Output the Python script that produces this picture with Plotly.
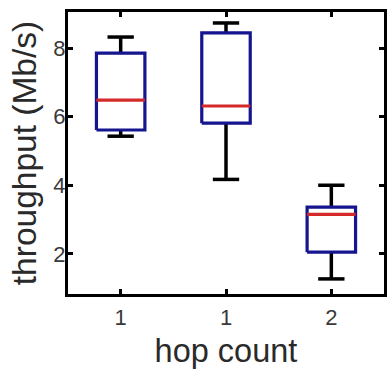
import plotly.graph_objects as go

positions = [1, 2, 3]
tick_labels = ["1", "1", "2"]
upper_whisker = [8.32, 8.73, 4.00]
q3 = [7.85, 8.44, 3.36]
median = [6.48, 6.31, 3.15]
q1 = [5.61, 5.81, 2.05]
lower_whisker = [5.43, 4.17, 1.27]

BOX_HALF = 0.23
CAP_HALF = 0.125

fig = go.Figure()

# whiskers and caps (black)
wx, wy = [], []
for p, uw, hi, lo, lw in zip(positions, upper_whisker, q3, q1, lower_whisker):
    wx += [p, p, None, p - CAP_HALF, p + CAP_HALF, None,
           p, p, None, p - CAP_HALF, p + CAP_HALF, None]
    wy += [hi, uw, None, uw, uw, None,
           lo, lw, None, lw, lw, None]
fig.add_trace(go.Scatter(x=wx, y=wy, mode="lines",
                         line=dict(color="black", width=3.5),
                         hoverinfo="skip", showlegend=False))

# boxes (blue)
bx, by = [], []
for p, hi, lo in zip(positions, q3, q1):
    bx += [p - BOX_HALF, p + BOX_HALF, p + BOX_HALF, p - BOX_HALF, p - BOX_HALF, None]
    by += [lo, lo, hi, hi, lo, None]
fig.add_trace(go.Scatter(x=bx, y=by, mode="lines",
                         line=dict(color="#15158f", width=3.2),
                         hoverinfo="skip", showlegend=False))

# medians (red)
mx, my = [], []
for p, m in zip(positions, median):
    mx += [p - BOX_HALF, p + BOX_HALF, None]
    my += [m, m, None]
fig.add_trace(go.Scatter(x=mx, y=my, mode="lines",
                         line=dict(color="#d42a2a", width=3.2),
                         hoverinfo="skip", showlegend=False))

axis_common = dict(
    showline=True, linecolor="black", linewidth=3, mirror="ticks",
    ticks="inside", ticklen=5, tickwidth=3, tickcolor="black",
    showgrid=False, zeroline=False, automargin=False,
    tickfont=dict(family="Arial, Liberation Sans, sans-serif", size=22, color="#3a3a3a"),
)

fig.update_layout(
    width=387, height=369,
    margin=dict(l=68, r=3, t=12, b=75),
    paper_bgcolor="white", plot_bgcolor="white",
    xaxis=dict(range=[0.5, 3.5], tickvals=positions, ticktext=tick_labels,
               ticklabelstandoff=2,
               title=dict(text="hop count", standoff=11,
                          font=dict(family="Arial, Liberation Sans, sans-serif", size=32.5, color="#2a2a2a")),
               **axis_common),
    yaxis=dict(range=[0.83, 9.05], tickvals=[2, 4, 6, 8],
               ticklabelstandoff=-5,
               title=dict(text="throughput (Mb/s)", standoff=7,
                          font=dict(family="Arial, Liberation Sans, sans-serif", size=33.5, color="#2a2a2a")),
               **axis_common),
)

fig.write_html("out.html", config={"displayModeBar": False},
               post_script="document.body.style.margin='0';document.body.style.padding='0';")
